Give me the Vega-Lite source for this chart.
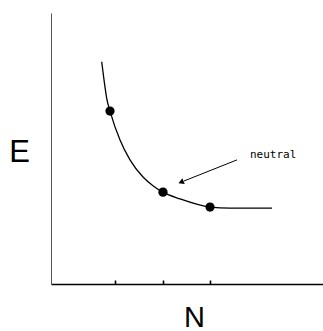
{
  "$schema": "https://vega.github.io/schema/vega-lite/v6.json",
  "width": 272,
  "height": 271,
  "autosize": {"type": "none"},
  "padding": {"left": 51, "top": 13, "right": 0, "bottom": 47},
  "background": "white",
  "config": {"view": {"stroke": null}},
  "datasets": {
    "curve": [
      {"N": 0.718, "E": 8.20},
      {"N": 0.767, "E": 7.53},
      {"N": 0.830, "E": 6.79},
      {"N": 0.893, "E": 6.38},
      {"N": 1.104, "E": 5.31},
      {"N": 1.314, "E": 4.58},
      {"N": 1.588, "E": 3.95},
      {"N": 1.805, "E": 3.62},
      {"N": 2.009, "E": 3.39},
      {"N": 2.368, "E": 3.14},
      {"N": 3.000, "E": 2.84},
      {"N": 3.420, "E": 2.80},
      {"N": 4.306, "E": 2.80}
    ],
    "dots": [
      {"N": 0.893, "E": 6.38},
      {"N": 2.009, "E": 3.39},
      {"N": 3.000, "E": 2.84}
    ],
    "arrow": [
      {"N": 3.568, "E": 4.58, "N2": 2.45, "E2": 3.80}
    ],
    "head": [
      {"N": 2.389, "E": 3.76}
    ],
    "label": [
      {"N": 3.842, "E": 4.76, "text": "neutral"}
    ]
  },
  "layer": [
    {
      "data": {"name": "curve"},
      "mark": {"type": "line", "interpolate": "monotone", "color": "black", "strokeWidth": 1.3},
      "encoding": {
        "x": {
          "field": "N", "type": "quantitative",
          "scale": {"domain": [-0.35, 5.38], "nice": false, "zero": false},
          "axis": {
            "title": "N", "values": [1, 2, 3], "labels": false, "grid": false,
            "domainColor": "black", "domainWidth": 1.6,
            "tickColor": "black", "tickSize": -4, "tickWidth": 1.6,
            "titleFont": "Liberation Sans", "titleFontSize": 29, "titleFontWeight": "normal",
            "titleColor": "black", "titleX": 143, "titleY": 33, "titleBaseline": "middle", "titleAlign": "center"
          }
        },
        "y": {
          "field": "E", "type": "quantitative",
          "scale": {"domain": [0, 10], "nice": false},
          "axis": {
            "title": "E", "values": [], "labels": false, "ticks": false, "grid": false,
            "domainColor": "#555555", "domainWidth": 1,
            "titleFont": "Liberation Sans", "titleFontSize": 31, "titleFontWeight": "normal",
            "titleColor": "black", "titleAngle": 0, "titleX": -32, "titleY": 139,
            "titleBaseline": "middle", "titleAlign": "center"
          }
        }
      }
    },
    {
      "data": {"name": "dots"},
      "mark": {"type": "point", "filled": true, "color": "black", "opacity": 1, "size": 85, "shape": "circle"},
      "encoding": {
        "x": {"field": "N", "type": "quantitative"},
        "y": {"field": "E", "type": "quantitative"}
      }
    },
    {
      "data": {"name": "arrow"},
      "mark": {"type": "rule", "color": "black", "strokeWidth": 1},
      "encoding": {
        "x": {"field": "N", "type": "quantitative"},
        "y": {"field": "E", "type": "quantitative"},
        "x2": {"field": "N2"},
        "y2": {"field": "E2"}
      }
    },
    {
      "data": {"name": "head"},
      "mark": {"type": "point", "filled": true, "color": "black", "opacity": 1, "size": 40, "shape": "triangle-up", "angle": 248},
      "encoding": {
        "x": {"field": "N", "type": "quantitative"},
        "y": {"field": "E", "type": "quantitative"}
      }
    },
    {
      "data": {"name": "label"},
      "mark": {"type": "text", "font": "DejaVu Sans Mono", "fontSize": 11, "align": "left", "baseline": "middle", "color": "black"},
      "encoding": {
        "x": {"field": "N", "type": "quantitative"},
        "y": {"field": "E", "type": "quantitative"},
        "text": {"field": "text"}
      }
    }
  ]
}
